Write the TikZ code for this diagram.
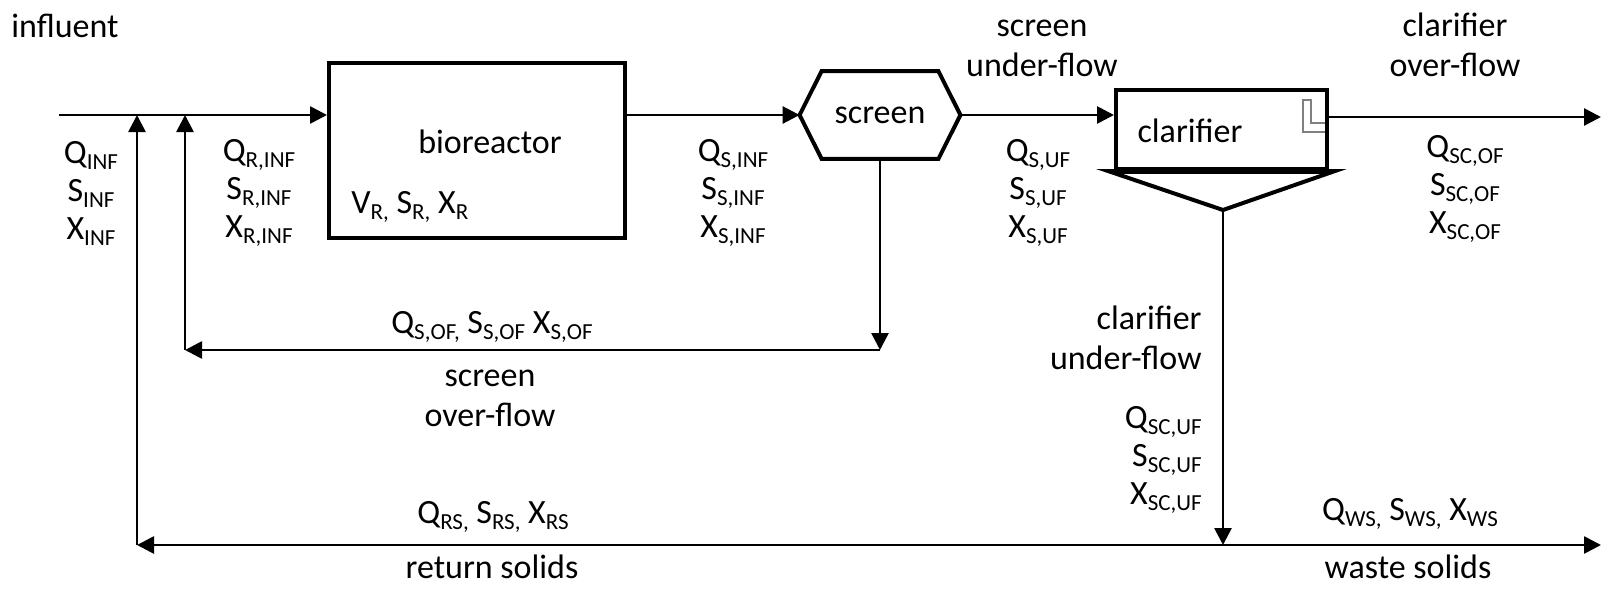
\documentclass[tikz,border=0pt]{standalone}
\usepackage{fontspec}
\setmainfont{Carlito}
\usetikzlibrary{arrows.meta,calc}
\newcommand\sbs[1]{\raisebox{-3pt}{\fontsize{11.5pt}{11.5pt}\selectfont #1}}
\begin{document}
\begin{tikzpicture}[x=0.5pt,y=-0.5pt,
  every node/.style={font=\fontsize{17pt}{19pt}\selectfont, inner sep=0pt},
  flow/.style={line width=1.35pt, -{Triangle[length=8.5pt,width=8.5pt]}},
  unit/.style={draw, line width=2pt, inner sep=0pt},
  lbl/.style={align=center},
  twoline/.style={align=center, font=\fontsize{17pt}{20pt}\selectfont},
  lblr/.style={align=right, anchor=east}]
\useasboundingbox (0,0) rectangle (1602,589);

% units
\node[unit, minimum width=148pt, minimum height=87.5pt] (bio) at (477,150.5) {};
\node (biot) at (490,142) {bioreactor};
\node[anchor=west] (biov) at (351,207) {V\sbs{R,} S\sbs{R,} X\sbs{R}};

\node[minimum width=80pt, minimum height=43.5pt] (scr) at (880,115) {screen};
\draw[line width=2pt] (scr.west) -- ([xshift=11pt]scr.north west) -- ([xshift=-11pt]scr.north east)
  -- (scr.east) -- ([xshift=-11pt]scr.south east) -- ([xshift=11pt]scr.south west) -- cycle;

\draw[gray, line width=0.6pt] (1325,123) -- (1311,123) -- (1311,100) -- (1303,100) -- (1303,132) -- (1325,132);
\node[unit, minimum width=105.5pt, minimum height=39.5pt] (cla) at (1221.5,129.5) {};
\node (clat) at (1190,131) {clarifier};
\coordinate (apex) at (1223,210);
\draw[line width=2pt] ([xshift=-3pt]cla.south west) -- ([xshift=3pt]cla.south east) -- (apex) -- cycle;
\draw[line width=2.6pt] (cla.south west) -- (cla.south east);

% coordinates
\coordinate (inf) at (59,115);
\coordinate (out1) at (1601,117);
\coordinate (c1) at (880,350);
\coordinate (c2) at (185,350);
\coordinate (j) at (1223,545);
\coordinate (c3) at (137,545);
\coordinate (out2) at (1601,545);

% connectors
\draw[flow] (inf) -- (inf -| bio.west);
\draw[flow] (bio.east |- scr.west) -- (scr.west);
\draw[flow] (scr.east) -- (scr.east -| cla.west);
\draw[flow] (cla.east |- out1) -- (out1);
\draw[flow] (scr.south) -- (c1);
\draw[flow] (c1) -- (c2);
\draw[flow] (c2) -- (c2 |- inf);
\draw[flow] (apex) -- (j);
\draw[flow] (j) -- (c3);
\draw[flow] (c3) -- (c3 |- inf);
\draw[flow] (j) -- (out2);

% labels
\node (tinf) at (65,26) {influent};
\node[lbl] (linf) at (91,193) {Q\sbs{INF}\\S\sbs{INF}\\X\sbs{INF}};
\node[lbl] (lrinf) at (259,193) {Q\sbs{R,INF}\\S\sbs{R,INF}\\X\sbs{R,INF}};
\node[lbl] (lsinf) at (733,193) {Q\sbs{S,INF}\\S\sbs{S,INF}\\X\sbs{S,INF}};
\node[lbl] (lsuf) at (1038,193) {Q\sbs{S,UF}\\S\sbs{S,UF}\\X\sbs{S,UF}};
\node[lbl] (lscof) at (1465,189) {Q\sbs{SC,OF}\\S\sbs{SC,OF}\\X\sbs{SC,OF}};
\node[twoline] (tsuf) at (1042,48) {screen\\under-flow};
\node[twoline] (tcof) at (1455,45) {clarifier\\over-flow};
\node (lsof) at (492,327) {Q\sbs{S,OF,} S\sbs{S,OF} X\sbs{S,OF}};
\node[twoline] (tsof) at (490,398) {screen\\over-flow};
\node[twoline, lblr] (tcuf) at (1202,338) {clarifier\\under-flow};
\node[lblr] (lscuf) at (1202,460) {Q\sbs{SC,UF}\\S\sbs{SC,UF}\\X\sbs{SC,UF}};
\node (lrs) at (493,517) {Q\sbs{RS,} S\sbs{RS,} X\sbs{RS}};
\node (trs) at (492,567) {return solids};
\node (lws) at (1410,514) {Q\sbs{WS,} S\sbs{WS,} X\sbs{WS}};
\node (tws) at (1408,567) {waste solids};
\end{tikzpicture}
\end{document}
